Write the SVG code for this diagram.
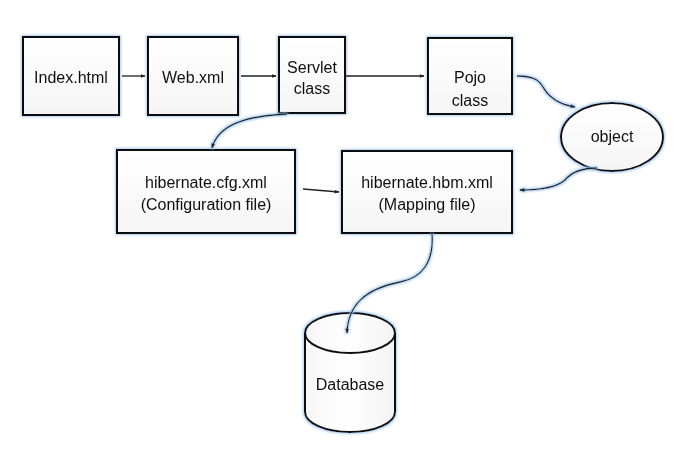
<svg xmlns="http://www.w3.org/2000/svg" width="675" height="450" viewBox="0 0 675 450">
<defs>
<filter id="glow" x="-20%" y="-20%" width="140%" height="140%">
<feMorphology in="SourceAlpha" operator="dilate" radius="1" result="d"/>
<feGaussianBlur in="d" stdDeviation="1.3" result="b"/>
<feFlood flood-color="#9cc3ec" flood-opacity="0.85"/>
<feComposite in2="b" operator="in" result="g"/>
<feMerge><feMergeNode in="g"/><feMergeNode in="SourceGraphic"/></feMerge>
</filter>
<linearGradient id="fill" x1="0" y1="0" x2="0" y2="1">
<stop offset="0" stop-color="#ffffff"/>
<stop offset="1" stop-color="#f5f5f5"/>
</linearGradient>
<linearGradient id="cyl" x1="0" y1="0" x2="1" y2="0">
<stop offset="0" stop-color="#f6f6f6"/>
<stop offset="0.5" stop-color="#ffffff"/>
<stop offset="1" stop-color="#f3f3f3"/>
</linearGradient>
<marker id="arr" viewBox="0 0 10 10" refX="9" refY="5" markerWidth="5" markerHeight="5" orient="auto" markerUnits="userSpaceOnUse">
<path d="M0,1 L10,5 L0,9 z" fill="#222"/>
</marker>
</defs>
<style>
.box{fill:url(#fill);stroke:#111;stroke-width:2}
.t{font-family:"Liberation Sans",Arial,sans-serif;font-size:16px;fill:#111;text-anchor:middle}
.c{fill:none;stroke:#222;stroke-width:1.3}
</style>
<rect width="675" height="450" fill="#fff"/>
<g id="index" filter="url(#glow)">
<rect class="box" x="23" y="37" width="96" height="78"/>
<text class="t" x="71" y="83">Index.html</text>
</g>
<g id="web" filter="url(#glow)">
<rect class="box" x="148" y="37" width="90" height="78"/>
<text class="t" x="193" y="83">Web.xml</text>
</g>
<g id="servlet" filter="url(#glow)">
<rect class="box" x="279" y="37" width="66" height="76"/>
<text class="t" x="312" y="73">Servlet</text>
<text class="t" x="312" y="94">class</text>
</g>
<g id="pojo" filter="url(#glow)">
<rect class="box" x="428" y="38" width="84" height="76"/>
<text class="t" x="470" y="83">Pojo</text>
<text class="t" x="470" y="106">class</text>
</g>
<g id="object" filter="url(#glow)">
<ellipse class="box" cx="612" cy="137" rx="51" ry="34"/>
<text class="t" x="612" y="142">object</text>
</g>
<g id="cfg" filter="url(#glow)">
<rect class="box" x="117" y="150" width="178" height="83"/>
<text class="t" x="206" y="188">hibernate.cfg.xml</text>
<text class="t" x="206" y="210">(Configuration file)</text>
</g>
<g id="hbm" filter="url(#glow)">
<rect class="box" x="342" y="151" width="170" height="82"/>
<text class="t" x="427" y="188">hibernate.hbm.xml</text>
<text class="t" x="427" y="210">(Mapping file)</text>
</g>
<g id="database" filter="url(#glow)">
<path d="M305,333 L305,412 A45,20 0 0 0 395,412 L395,333 A45,20 0 0 0 305,333 Z" fill="url(#cyl)" stroke="#111" stroke-width="2"/>
<path d="M305,333 A45,20 0 0 0 395,333" fill="none" stroke="#111" stroke-width="2"/>
<text class="t" x="350" y="390">Database</text>
</g>
<g id="connectors">
<path class="c" d="M122,76 L145,76" marker-end="url(#arr)"/>
<path class="c" d="M241,76 L276,76" marker-end="url(#arr)"/>
<path class="c" d="M346,76 L424,76" marker-end="url(#arr)"/>
<g filter="url(#glow)">
<path class="c" d="M517,76 C545,76 540,88 550,96 C558,103 565,105 575,107" marker-end="url(#arr)"/>
<path class="c" d="M597,168 C580,168 570,174 565,180 C555,189 535,190 520,190" marker-end="url(#arr)"/>
<path class="c" d="M287,114 C245,116 218,125 212,148" marker-end="url(#arr)"/>
<path class="c" d="M432,234 C434,262 422,278 400,282 C365,289 348,305 347,333" marker-end="url(#arr)"/>
</g>
<path class="c" d="M303,189 L339,192" marker-end="url(#arr)"/>
</g>
</svg>
